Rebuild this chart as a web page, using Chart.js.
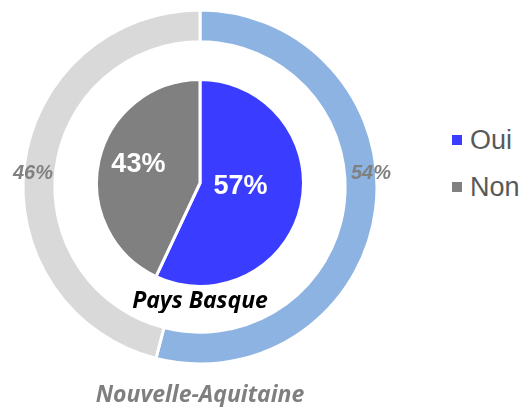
<!DOCTYPE html>
<html>
<head>
<meta charset="utf-8">
<script src="https://cdn.jsdelivr.net/npm/chart.js@4"></script>
<style>
  body { margin: 0; background: #fff; }
  .wrap { position: relative; width: 525px; height: 407px; overflow: hidden; }
  #regionChart { position: absolute; left: 0; top: 0; }
  #localChart { position: absolute; left: 90px; top: 73px; }
  .legend { position: absolute; left: 452px; top: 116.5px; font: 27px "Liberation Sans", Arial, sans-serif; color: #595959; }
  .legend div { display: flex; align-items: center; height: 47px; }
  .legend span { width: 10px; height: 10px; margin-right: 8px; }
</style>
</head>
<body>
<div class="wrap">
  <canvas id="regionChart" width="400" height="407"></canvas>
  <canvas id="localChart" width="220" height="240"></canvas>
  <div class="legend" id="legend"></div>
</div>
<script>
const answers = ["Oui", "Non"];
const regionShare = [54, 46];   // Nouvelle-Aquitaine
const localShare = [57, 43];    // Pays Basque

const regionColors = ["#8db3e2", "#d9d9d9"];
const localColors = ["#3a3dff", "#808080"];

// how far from the centre the inner labels sit, as a share of the radius
const localLabelDepth = [0.4, 0.61];

const midAngle = (a) => (a.startAngle + a.endAngle) / 2;

// writes "NN%" on each slice, at the spot given by place()
const sliceLabels = (place, font, color) => ({
  id: "sliceLabels",
  afterDatasetsDraw(chart) {
    const { ctx } = chart;
    const values = chart.data.datasets[0].data;
    ctx.save();
    ctx.font = font;
    ctx.fillStyle = color;
    ctx.textAlign = "center";
    ctx.textBaseline = "middle";
    chart.getDatasetMeta(0).data.forEach((arc, i) => {
      const props = arc.getProps(["x", "y", "startAngle", "endAngle", "outerRadius"], true);
      const [x, y] = place(props, i);
      ctx.fillText(values[i] + "%", x, y);
    });
    ctx.restore();
  },
});

const titleFont = { family: "Open Sans", size: 23, weight: "bold", style: "italic", lineHeight: 1 };

// outer ring: the whole region
new Chart(document.getElementById("regionChart"), {
  type: "doughnut",
  data: {
    labels: answers,
    datasets: [{ data: regionShare, backgroundColor: regionColors, borderColor: "#fff", borderWidth: 3 }],
  },
  options: {
    responsive: false,
    animation: false,
    cutout: "82%",
    layout: { padding: { top: 8.5, left: 21.5, right: 21.5, bottom: 0 } },
    plugins: {
      legend: { display: false },
      tooltip: { enabled: false },
      title: {
        display: true,
        position: "bottom",
        text: "Nouvelle-Aquitaine",
        color: "#7f7f7f",
        font: titleFont,
        padding: { top: 18.5, bottom: 0 },
      },
    },
  },
  plugins: [
    sliceLabels((a) => {
      // put the label on the ring where it meets the horizontal
      const side = Math.cos(midAngle(a)) >= 0 ? 1 : -1;
      return [a.x + side * (a.outerRadius - 8) + 2, a.y - 14];
    }, 'italic bold 20px "Liberation Sans", Arial, sans-serif', "#808080"),
  ],
});

// inner pie: Pays Basque
new Chart(document.getElementById("localChart"), {
  type: "pie",
  data: {
    labels: answers,
    datasets: [{ data: localShare, backgroundColor: localColors, borderColor: "#fff", borderWidth: 3 }],
  },
  options: {
    responsive: false,
    animation: false,
    layout: { padding: { top: 5, left: 5, right: 5, bottom: 0 } },
    plugins: {
      legend: { display: false },
      tooltip: { enabled: false },
      title: {
        display: true,
        position: "bottom",
        text: "Pays Basque",
        color: "#000",
        font: titleFont,
        padding: { top: 2, bottom: 0 },
      },
    },
  },
  plugins: [
    sliceLabels((a, i) => {
      const m = midAngle(a);
      const r = a.outerRadius * localLabelDepth[i];
      return [a.x + r * Math.cos(m), a.y + r * Math.sin(m) - 5];
    }, 'bold 27px "Liberation Sans", Arial, sans-serif', "#fff"),
  ],
});

// legend uses the inner pie colours
document.getElementById("legend").innerHTML = answers
  .map((name, i) => `<div><span style="background:${localColors[i]}"></span>${name}</div>`)
  .join("");
</script>
</body>
</html>
